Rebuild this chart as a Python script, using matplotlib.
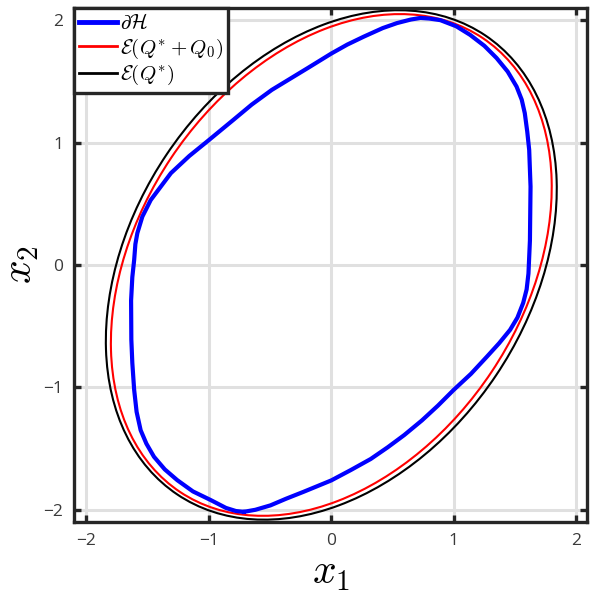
import numpy as np
import matplotlib
matplotlib.use("Agg")
import matplotlib.pyplot as plt
from matplotlib.patches import Ellipse

plt.rcParams["mathtext.fontset"] = "cm"
plt.rcParams["font.family"] = ["Open Sans", "DejaVu Sans"]

# boundary of H
hx = [-0.715, -0.62, -0.497, -0.37, -0.226, 0.0, 0.16, 0.322, 0.46, 0.595,
      0.74, 0.87, 1.0, 1.14, 1.27, 1.37, 1.46, 1.52, 1.567, 1.595, 1.61,
      1.622, 1.627, 1.616, 1.60, 1.58, 1.555, 1.513, 1.44, 1.35, 1.25, 1.133,
      1.02, 0.89, 0.80, 0.728, 0.65, 0.537, 0.42, 0.265, 0.13, 0.0, -0.19,
      -0.486, -0.65, -0.8, -1.0, -1.16, -1.31, -1.4, -1.475, -1.51, -1.543,
      -1.584, -1.60, -1.61, -1.625, -1.635, -1.633, -1.625, -1.61, -1.59,
      -1.557, -1.51, -1.448, -1.36, -1.258, -1.13, -0.986, -0.86, -0.78,
      -0.715]
hy = [-2.017, -2.0, -1.964, -1.91, -1.853, -1.76, -1.675, -1.585, -1.49, -1.39,
      -1.27, -1.15, -1.02, -0.89, -0.75, -0.64, -0.53, -0.43, -0.31, -0.2, -0.07,
      0.2, 0.64, 0.94, 1.09, 1.24, 1.35, 1.457, 1.58, 1.69, 1.79, 1.88,
      1.95, 2.0, 2.013, 2.018, 2.005, 1.976, 1.935, 1.865, 1.80, 1.727, 1.61,
      1.43, 1.31, 1.185, 1.02, 0.89, 0.75, 0.63, 0.53, 0.46, 0.395,
      0.26, 0.17, 0.04, -0.1, -0.29, -0.61, -0.8, -1.02, -1.2,
      -1.35, -1.46, -1.567, -1.67, -1.758, -1.85, -1.92, -1.985, -2.01,
      -2.017]

# ellipse shape matrices E(Q) = {x : x' Q^-1 x <= 1}
Q_star = np.array([[3.39, 1.144], [1.144, 4.33]])
Q_star_Q0 = np.array([[3.24, 1.148], [1.148, 4.20]])

ticks = [-2, -1, 0, 1, 2]


def ellipse_patch(Q, color, lw):
    vals, vecs = np.linalg.eigh(Q)
    angle = np.degrees(np.arctan2(vecs[1, 1], vecs[0, 1]))
    return Ellipse((0, 0), 2 * np.sqrt(vals[1]), 2 * np.sqrt(vals[0]),
                   angle=angle, fill=False, edgecolor=color, linewidth=lw)


fig = plt.figure(figsize=(5.98, 6.07), dpi=100)
ax = fig.add_axes([0.124, 0.140, 0.858, 0.847])

ax.plot(hx, hy, color="#0000ff", linewidth=3.0, label=r"$\partial\mathcal{H}$",
        solid_joinstyle="round")
ax.add_patch(ellipse_patch(Q_star_Q0, "#ff0000", 1.5))
ax.add_patch(ellipse_patch(Q_star, "#000000", 1.5))
ax.plot([], [], color="#ff0000", linewidth=2.0, label=r"$\mathcal{E}(Q^{*}+Q_0)$")
ax.plot([], [], color="#000000", linewidth=2.0, label=r"$\mathcal{E}(Q^{*})$")

ax.set_xlim(-2.1, 2.09)
ax.set_ylim(-2.1, 2.1)
ax.set_xticks(ticks)
ax.set_yticks(ticks)
ax.grid(True, color="#e0e0e0", linewidth=2.2)
ax.set_axisbelow(True)
for s in ax.spines.values():
    s.set_linewidth(2.4)
    s.set_color("#262626")
ax.tick_params(direction="in", length=5, width=2.4, color="#262626",
               top=True, right=True, labelsize=12.5, labelcolor="#3a3a3a", pad=8)

ax.set_xlabel(r"$x_1$", fontsize=30, labelpad=2)
ax.set_ylabel(r"$x_2$", fontsize=30, labelpad=1)

leg = ax.legend(loc="upper left", borderaxespad=0, fancybox=False,
                fontsize=15, handlelength=1.8, handletextpad=0.15,
                labelspacing=0.12, borderpad=0.25, framealpha=1)
leg.get_frame().set_edgecolor("#262626")
leg.get_frame().set_linewidth(2.4)
leg.get_lines()[0].set_linewidth(3.5)

fig.savefig("out.png", dpi=100)
